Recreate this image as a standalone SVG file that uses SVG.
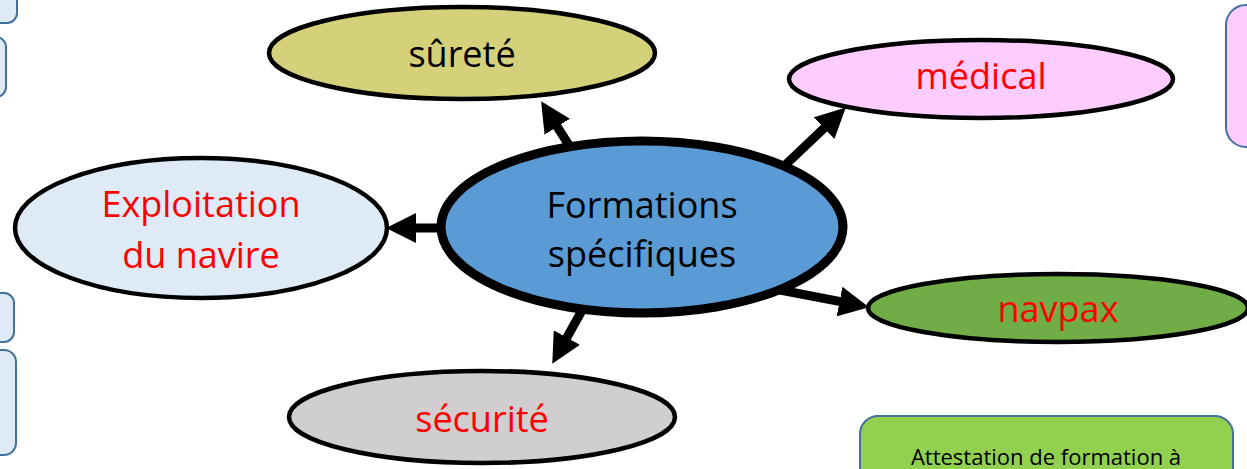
<svg xmlns="http://www.w3.org/2000/svg" width="1247" height="469" viewBox="0 0 1247 469">
<style>
.lbl{font-family:"Open Sans","Noto Sans",sans-serif;font-size:36px;text-anchor:middle}
.red{fill:#FF0000}
.blk{fill:#000}
.node{stroke:#000;stroke-width:4.5}
.side{stroke:#41719C;stroke-width:2}
.conn{stroke:#000;stroke-width:9;fill:none;marker-end:url(#ah)}
</style>
<defs>
<marker id="ah" markerUnits="userSpaceOnUse" markerWidth="30" markerHeight="30" viewBox="0 0 30 30" refX="9" refY="15" orient="auto">
<path d="M0,0 L30,15 L0,30 z" fill="#000"/>
</marker>
</defs>
<rect width="1247" height="469" fill="#fff"/>
<g id="side-boxes">
<rect id="box-tl1" x="-30" y="-30" width="47" height="53" rx="10" fill="#DEEBF7" class="side"/>
<rect id="box-tl2" x="-40" y="37" width="46" height="60" rx="10" fill="#DEEBF7" class="side"/>
<rect id="box-bl1" x="-40" y="293" width="54" height="49" rx="10" fill="#DEEBF7" class="side"/>
<rect id="box-bl2" x="-40" y="350" width="56" height="105" rx="12" fill="#DEEBF7" class="side"/>
<rect id="box-tr" x="1226" y="5" width="60" height="142" rx="20" fill="#FFCCFF" class="side"/>
<g id="box-br">
<rect x="860" y="416" width="373" height="80" rx="18" fill="#92D050" class="side"/>
<text x="1046" y="465" style="font-family:'Open Sans','Noto Sans',sans-serif;font-size:22px;text-anchor:middle" fill="#000">Attestation de formation à</text>
</g>
</g>
<g id="connectors">
<path class="conn" d="M572,150 L552.4,119.1"/>
<path class="conn" d="M780,170 L830.6,121.9"/>
<path class="conn" d="M780,290 L848.4,303.2"/>
<path class="conn" d="M585,305 L562.5,345.4"/>
<path class="conn" d="M445,228 L407,228"/>
</g>
<g id="node-surete">
<ellipse cx="462" cy="53" rx="193" ry="46" fill="#D5D17A" class="node"/>
<text x="462" y="67" class="lbl blk">sûreté</text>
</g>
<g id="node-medical">
<ellipse cx="981" cy="79" rx="192" ry="39" fill="#FFCCFF" class="node"/>
<text x="981" y="89" class="lbl red">médical</text>
</g>
<g id="node-navpax">
<ellipse cx="1058" cy="308" rx="190" ry="34" fill="#70AD47" class="node"/>
<text x="1058" y="322" class="lbl red">navpax</text>
</g>
<g id="node-exploitation">
<ellipse cx="201" cy="228" rx="186" ry="70" fill="#DEEBF7" class="node"/>
<text x="201" y="217" class="lbl red">Exploitation</text>
<text x="201" y="268" class="lbl red">du navire</text>
</g>
<g id="node-securite">
<ellipse cx="482" cy="417" rx="193" ry="46" fill="#D0CECE" class="node"/>
<text x="482" y="432" class="lbl red">sécurité</text>
</g>
<g id="node-center">
<ellipse cx="642" cy="227" rx="201" ry="86" fill="#5B9BD5" stroke="#000" stroke-width="9"/>
<text x="642" y="218" class="lbl blk">Formations</text>
<text x="642" y="267" class="lbl blk">spécifiques</text>
</g>
</svg>
